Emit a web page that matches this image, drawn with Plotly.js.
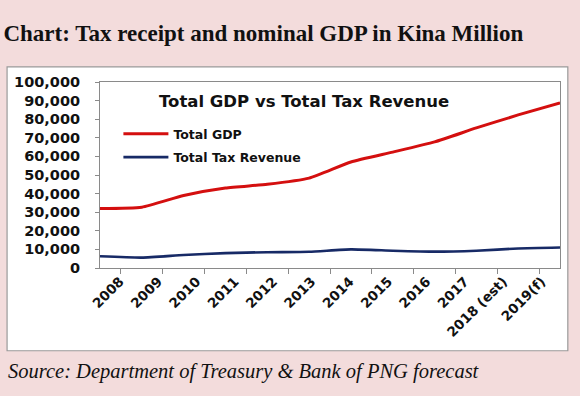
<!DOCTYPE html>
<html>
<head>
<meta charset="utf-8">
<script src="https://cdn.plot.ly/plotly-3.0.1.min.js"></script>
<style>
html,body{margin:0;padding:0;background:#f3dcdc;}
#chart{width:580px;height:396px;}
</style>
</head>
<body>
<div id="chart"></div>
<script>
const years = ["2008","2009","2010","2011","2012","2013","2014","2015","2016","2017","2018 (est)","2019(f)"];
const totalGDP = [32000, 32700, 39000, 43000, 45000, 48300, 57000, 62300, 67800, 75300, 82300, 88800];
const totalTax = [6300, 5600, 7000, 8000, 8500, 8700, 10000, 9300, 8800, 9300, 10500, 11000];
const yTicks = [0,10000,20000,30000,40000,50000,60000,70000,80000,90000,100000];

const sans = "DejaVu Sans, Verdana, sans-serif";
const serif = "Liberation Serif, Times New Roman, serif";
const labelShift = 0.02;
const idx = years.map((_, i) => i);

const traces = [
  {x: years, y: totalGDP, name: "Total GDP", type: "scatter", mode: "lines",
   line: {color: "#d40f0f", width: 3, shape: "spline", smoothing: 0.5}, legendgroup: "a"},
  {x: years, y: totalTax, name: "Total Tax Revenue", type: "scatter", mode: "lines",
   line: {color: "#172a66", width: 2.6, shape: "spline", smoothing: 0.5}, legendgroup: "b"},
  // empty helper trace so the label-only axis is drawn
  {x: [], y: [], xaxis: "x2", yaxis: "y", type: "scatter", mode: "lines",
   showlegend: false, hoverinfo: "skip"}
];

const layout = {
  width: 580, height: 396,
  paper_bgcolor: "#f3dcdc",
  plot_bgcolor: "#ffffff",
  margin: {l: 100, r: 20, t: 82, b: 128},
  title: {text: "<b>Chart: Tax receipt and nominal GDP in Kina Million</b>",
          font: {family: serif, size: 23, color: "#111"},
          x: 0.006, xanchor: "left", xref: "container", y: 0.918, yanchor: "middle", yref: "container"},
  showlegend: true,
  legend: {x: 0.04, y: 0.8, xanchor: "left", yanchor: "top", bgcolor: "rgba(0,0,0,0)",
           font: {family: sans, size: 12.5, color: "#111", weight: "bold"},
           traceorder: "grouped", tracegroupgap: 4, itemwidth: 45},
  xaxis: {type: "category", showline: true, mirror: true, linecolor: "#8a8a8a", linewidth: 1,
          ticks: "outside", tickson: "boundaries", ticklen: 5, tickcolor: "#8a8a8a",
          showticklabels: false, showgrid: false, zeroline: false},
  xaxis2: {overlaying: "x", anchor: "y", side: "bottom", type: "linear",
           range: [-0.5 - labelShift, years.length - 0.5 - labelShift],
           tickmode: "array", tickvals: idx, ticktext: years, tickangle: -45,
           ticks: "", showline: false, showgrid: false, zeroline: false, ticklabelstandoff: 2,
           tickfont: {family: sans, size: 13.5, color: "#111", weight: "bold"}},
  yaxis: {range: [0, 100000], tickvals: yTicks, tickformat: ",d", showline: true, mirror: true,
          linecolor: "#8a8a8a", linewidth: 1, ticks: "outside", ticklen: 4, tickcolor: "#8a8a8a",
          showgrid: false, zeroline: false, ticklabelstandoff: 12,
          tickfont: {family: sans, size: 14.5, color: "#111", weight: "bold"}},
  shapes: [
    {type: "rect", xref: "paper", yref: "paper", x0: -0.202, x1: 1.017, y0: -0.445, y1: 1.081,
     fillcolor: "#ffffff", line: {color: "#9a9a9a", width: 1.2}, layer: "below"}
  ],
  annotations: [
    {text: "<b>Total GDP vs Total Tax Revenue</b>", xref: "paper", yref: "paper",
     x: 0.443, y: 0.895, xanchor: "center", yanchor: "middle", showarrow: false,
     font: {family: sans, size: 16.5, color: "#111"}},
    {text: "<i>Source: Department of Treasury &amp; Bank of PNG forecast</i>", xref: "paper", yref: "paper",
     x: -0.204, y: -0.555, xanchor: "left", yanchor: "middle", showarrow: false,
     font: {family: serif, size: 20.5, color: "#111"}}
  ]
};

Plotly.newPlot("chart", traces, layout, {displayModeBar: false, staticPlot: true});
</script>
</body>
</html>
